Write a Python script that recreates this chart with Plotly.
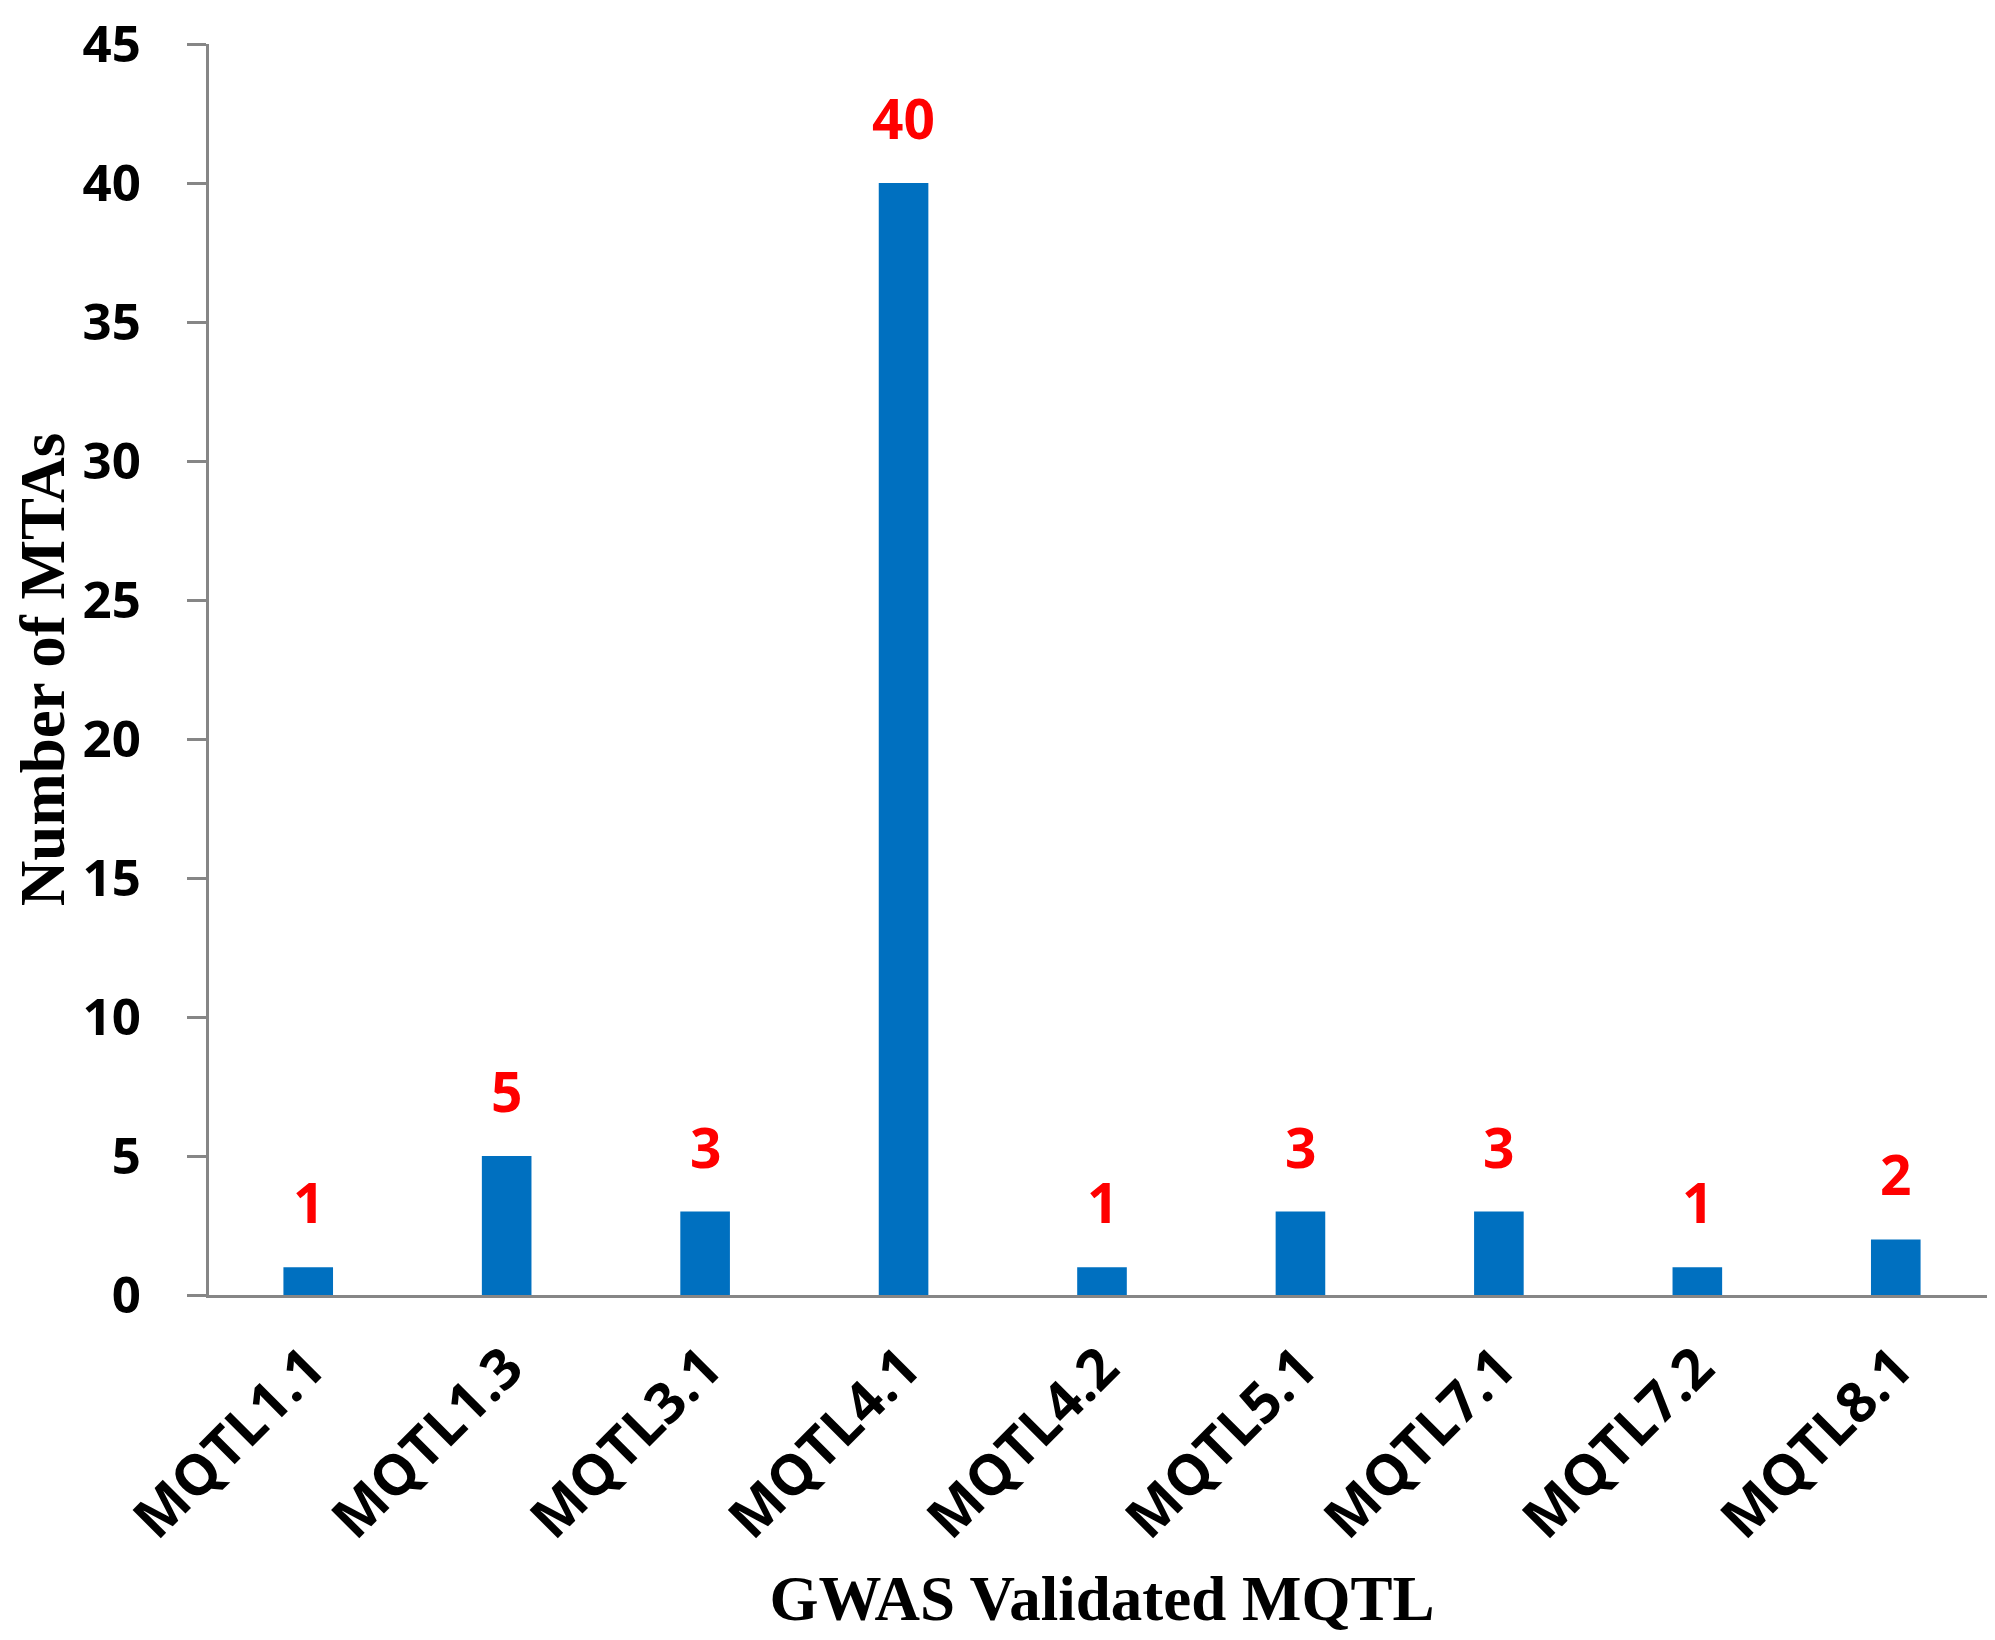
import plotly.graph_objects as go

# data
mqtl_names = ["MQTL1.1", "MQTL1.3", "MQTL3.1", "MQTL4.1", "MQTL4.2",
              "MQTL5.1", "MQTL7.1", "MQTL7.2", "MQTL8.1"]
mta_counts = [1, 5, 3, 40, 1, 3, 3, 1, 2]
y_ticks = [0, 5, 10, 15, 20, 25, 30, 35, 40, 45]

BAR_BLUE = "#0070C0"
AXIS_GREY = "#868686"
Y_TICK_FONT = dict(family="Open Sans", size=51, color="black", weight="bold")
X_TICK_FONT = dict(family="Open Sans", size=56, color="black", weight="bold")
TITLE_FONT = dict(family="Liberation Serif", size=63, color="black", weight="bold")

fig = go.Figure()
fig.add_trace(
    go.Bar(
        x=list(range(len(mqtl_names))),
        y=mta_counts,
        width=0.25,
        marker=dict(color=BAR_BLUE, line=dict(width=0)),
        showlegend=False,
    )
)

# red value labels above each bar
for i, val in enumerate(mta_counts):
    fig.add_annotation(
        x=i,
        y=val,
        text=str(val),
        showarrow=False,
        yanchor="bottom",
        yshift=26,
        font=dict(family="Open Sans", size=55, color="#FF0000", weight="bold"),
    )

fig.update_layout(
    width=1995,
    height=1640,
    margin=dict(l=201, r=8, t=36, b=353, autoexpand=False),
    plot_bgcolor="white",
    paper_bgcolor="white",
    bargap=0.75,
)

fig.update_xaxes(
    range=[-0.5, 8.5],
    tickmode="array",
    tickvals=list(range(len(mqtl_names))),
    ticktext=mqtl_names,
    tickangle=-45,
    tickfont=X_TICK_FONT,
    ticks="",
    ticklabelstandoff=14,
    showline=True,
    linecolor=AXIS_GREY,
    linewidth=3,
    showgrid=False,
    zeroline=False,
    automargin=False,
    title=dict(text="GWAS Validated MQTL", font=TITLE_FONT, standoff=24),
)

fig.update_yaxes(
    range=[0, 45],
    tickmode="array",
    tickvals=y_ticks,
    tickfont=Y_TICK_FONT,
    ticks="outside",
    ticklen=19,
    tickwidth=3,
    tickcolor=AXIS_GREY,
    ticklabelstandoff=36,
    ticklabeloverflow="allow",
    showline=True,
    linecolor=AXIS_GREY,
    linewidth=3,
    showgrid=False,
    zeroline=False,
    automargin=False,
    title=dict(text="Number of MTAs", font=TITLE_FONT, standoff=42),
)

fig.write_html("out.html")
